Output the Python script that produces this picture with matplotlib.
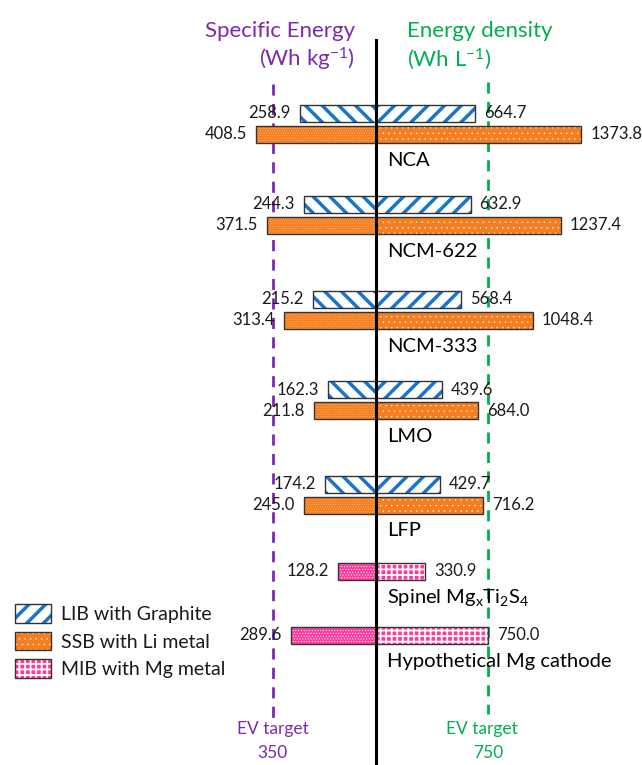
import matplotlib
matplotlib.use("Agg")
import matplotlib.pyplot as plt
from matplotlib.patches import Patch, Rectangle
from matplotlib.legend_handler import HandlerTuple

plt.rcParams['font.family'] = ['Lato', 'DejaVu Sans']
plt.rcParams['mathtext.fontset'] = 'custom'
plt.rcParams['mathtext.rm'] = 'Lato'
plt.rcParams['mathtext.it'] = 'Lato'

# ---------------- data ----------------
categories = ["NCA", "NCM-622", "NCM-333", "LMO", "LFP"]
mg_categories = ["Spinel Mg$_x$Ti$_2$S$_4$", "Hypothetical Mg cathode"]
lib_se = [258.9, 244.3, 215.2, 162.3, 174.2]      # Wh/kg
lib_ed = [664.7, 632.9, 568.4, 439.6, 429.7]      # Wh/L
ssb_se = [408.5, 371.5, 313.4, 211.8, 245.0]
ssb_ed = [1373.8, 1237.4, 1048.4, 684.0, 716.2]
mib_se = [128.2, 289.6]
mib_ed = [330.9, 750.0]
target_se = 350
target_ed = 750
legend_labels = ["LIB with Graphite", "SSB with Li metal", "MIB with Mg metal"]

# ---------------- layout ----------------
W, Hpx = 642, 765
center_px = 376
s = 0.1495          # px per Wh/L
k = 1.97            # left-side scale relative to right
lib_y = [113, 204, 299, 389.5, 484]
ssb_dy = 21
lab_dy = 47
mib_y = [571, 635]
mib_lab_y = [598, 662]
bar_h = 17

BLUE = '#1874CD'
ORANGE = '#F57F20'
PINK = '#FF3C9E'
PURPLE = '#7B2AB0'
GREEN = '#00B04F'
TXT = '#1a1a1a'

STY = {
    'lib_l': ('white', '\\\\', BLUE, 2.5),
    'lib_r': ('white', '//', BLUE, 2.5),
    'ssb_l': (ORANGE, '.......', '#FFC08A', 0.3),
    'ssb_r': (ORANGE, '...', 'white', 0.2),
    'mib_l': (PINK, '......', 'white', 0.4),
    'mib_r': (PINK, '+++', 'white', 1.3),
}
HATCH_LW = {v[1]: v[3] for v in STY.values()}

fig = plt.figure(figsize=(W / 100, Hpx / 100), dpi=100)
ax = fig.add_axes([0, 0, 1, 1])
ax.set_xlim(-center_px / s, (W - center_px) / s)
ax.set_ylim(Hpx, 0)
ax.axis('off')

def px(d):
    return d / s

def set_hlw(p, hlw):
    if hasattr(p, 'set_hatch_linewidth'):
        p.set_hatch_linewidth(hlw)
    else:
        p._hatch_linewidth = hlw

def bar(y, w, key):
    face, hatch, hcol, hlw = STY[key]
    with plt.rc_context({'hatch.linewidth': hlw}):
        bc = ax.barh(y, w, height=bar_h, left=0, color=face, edgecolor=hcol,
                     hatch=hatch, linewidth=0, zorder=2)
        for p in bc:
            set_hlw(p, hlw)
    ax.barh(y, w, height=bar_h, left=0, fill=False, edgecolor='#333333',
            linewidth=1.0, zorder=3)

gap = px(9)
fs_val = 12
for i, cat in enumerate(categories):
    y1 = lib_y[i]
    y2 = y1 + ssb_dy
    bar(y1, -k * lib_se[i], 'lib_l')
    bar(y1, lib_ed[i], 'lib_r')
    bar(y2, -k * ssb_se[i], 'ssb_l')
    bar(y2, ssb_ed[i], 'ssb_r')
    ax.text(-k * lib_se[i] - gap, y1, f"{lib_se[i]:.1f}", ha='right', va='center', fontsize=fs_val, color=TXT, zorder=4)
    ax.text(lib_ed[i] + gap, y1, f"{lib_ed[i]:.1f}", ha='left', va='center', fontsize=fs_val, color=TXT, zorder=4)
    ax.text(-k * ssb_se[i] - gap, y2, f"{ssb_se[i]:.1f}", ha='right', va='center', fontsize=fs_val, color=TXT, zorder=4)
    ax.text(ssb_ed[i] + gap, y2, f"{ssb_ed[i]:.1f}", ha='left', va='center', fontsize=fs_val, color=TXT, zorder=4)
    ax.text(px(11), y1 + lab_dy, cat, ha='left', va='center', fontsize=14.5, color='black', zorder=4)

for i, cat in enumerate(mg_categories):
    y = mib_y[i]
    bar(y, -k * mib_se[i], 'mib_l')
    bar(y, mib_ed[i], 'mib_r')
    ax.text(-k * mib_se[i] - gap, y, f"{mib_se[i]:.1f}", ha='right', va='center', fontsize=fs_val, color=TXT, zorder=4)
    ax.text(mib_ed[i] + gap, y, f"{mib_ed[i]:.1f}", ha='left', va='center', fontsize=fs_val, color=TXT, zorder=4)
    ax.text(px(11), mib_lab_y[i], cat, ha='left', va='center', fontsize=14.5, color='black', zorder=4)

# center line and targets
ax.plot([0, 0], [40, Hpx], color='black', lw=2.2, zorder=5)
ax.plot([-k * target_se] * 2, [84, 718], color=PURPLE, lw=2, ls=(0, (4, 3)), zorder=1)
ax.plot([target_ed] * 2, [82, 714], color=GREEN, lw=2, ls=(0, (4, 3)), zorder=1)

# titles
ax.text(px(-21), 31, "Specific Energy", ha='right', va='center', fontsize=16, color=PURPLE)
ax.text(px(-21), 59, "(Wh kg$^{-1}$)", ha='right', va='center', fontsize=16, color=PURPLE)
ax.text(px(31), 31, "Energy density", ha='left', va='center', fontsize=16, color=GREEN)
ax.text(px(31), 59, "(Wh L$^{-1}$)", ha='left', va='center', fontsize=16, color=GREEN)

ax.text(-k * target_se, 729, "EV target", ha='center', va='center', fontsize=12.5, color=PURPLE)
ax.text(-k * target_se, 753, f"{target_se}", ha='center', va='center', fontsize=12.5, color=PURPLE)
ax.text(target_ed - px(6), 729, "EV target", ha='center', va='center', fontsize=12.5, color=GREEN)
ax.text(target_ed, 753, f"{target_ed}", ha='center', va='center', fontsize=12.5, color=GREEN)

# legend
def handle(key):
    face, hatch, hcol, hlw = STY[key]
    p = Patch(facecolor=face, edgecolor=hcol, hatch=hatch, linewidth=0)
    set_hlw(p, hlw)
    return (p, Patch(fill=False, edgecolor='#333333', linewidth=1.0))

handles = [handle('lib_r'), handle('ssb_r'), handle('mib_r')]
leg = ax.legend(handles, legend_labels, handler_map={tuple: HandlerTuple(ndivide=1, pad=0)},
                loc='upper left', bbox_to_anchor=(15 / W, 1 - 604 / Hpx), frameon=False,
                fontsize=14, handlelength=1.85, handleheight=1.1, handletextpad=0.5,
                labelspacing=0.45, borderaxespad=0, borderpad=0)
for t in leg.get_texts():
    t.set_color(TXT)
for r in leg.findobj(Rectangle):
    h = r.get_hatch()
    if h in HATCH_LW:
        set_hlw(r, HATCH_LW[h])

fig.savefig("out.png", dpi=100)
